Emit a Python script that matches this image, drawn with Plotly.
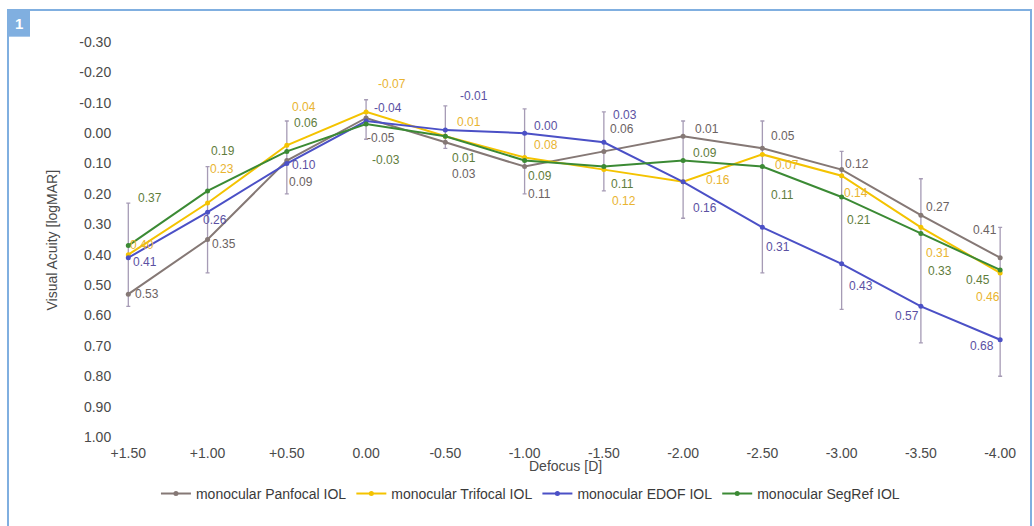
import plotly.graph_objects as go

# Defocus steps (dioptres) shown as categories
defocus = ["+1.50", "+1.00", "+0.50", "0.00", "-0.50", "-1.00",
           "-1.50", "-2.00", "-2.50", "-3.00", "-3.50", "-4.00"]

# Mean visual acuity (logMAR) per lens group
panfocal = [0.53, 0.35, 0.09, -0.05, 0.03, 0.11, 0.06, 0.01, 0.05, 0.12, 0.27, 0.41]
trifocal = [0.40, 0.23, 0.04, -0.07, 0.01, 0.08, 0.12, 0.16, 0.07, 0.14, 0.31, 0.46]
edof = [0.41, 0.26, 0.10, -0.04, -0.01, 0.00, 0.03, 0.16, 0.31, 0.43, 0.57, 0.68]
segref = [0.37, 0.19, 0.06, -0.03, 0.01, 0.09, 0.11, 0.09, 0.11, 0.21, 0.33, 0.45]

# Spread (lower / upper logMAR) drawn as whiskers at each defocus step
spread_low = [0.23, 0.11, -0.04, -0.11, -0.09, -0.08, -0.07, -0.04, -0.04, 0.06, 0.15, 0.31]
spread_high = [0.57, 0.46, 0.20, 0.02, 0.05, 0.20, 0.19, 0.28, 0.46, 0.58, 0.69, 0.80]

y_ticks = [-0.30, -0.20, -0.10, 0.00, 0.10, 0.20, 0.30, 0.40, 0.50,
           0.60, 0.70, 0.80, 0.90, 1.00]

# Label pixel offsets (right, down) for each point of each series
pan_off = [(19, 0), (16, 4), (14, 21), (15, 20), (19, 32), (15, 27),
           (18, -22), (24, -7), (21, -12), (15, -6), (17, -8), (-15, -28)]
tri_off = [(14, -10), (14, -34), (17, -38), (26, -28), (24, -14), (21, -12),
           (20, 31), (35, -2), (25, 11), (14, 17), (17, 26), (-12, 24)]
edof_off = [(17, 4), (7, 8), (17, 1), (22, -13), (29, -34), (21, -7),
            (21, -27), (22, 26), (16, 20), (19, 22), (-14, 10), (-18, 6)]
seg_off = [(22, -48), (15, -40), (19, -28), (20, 36), (19, 22), (15, 15),
           (19, 17), (22, -8), (20, 28), (17, 23), (19, 38), (-22, 10)]

series = [
    ("monocular Panfocal IOL", panfocal, "#857875", "#6b6262", pan_off),
    ("monocular Trifocal IOL", trifocal, "#f4c300", "#e9b430", tri_off),
    ("monocular EDOF IOL", edof, "#4b50c6", "#5b50a2", edof_off),
    ("monocular SegRef IOL", segref, "#3b8a34", "#5f7d3c", seg_off),
]

FONT = "Liberation Sans, Arial, sans-serif"

fig = go.Figure()

# Whiskers behind the curves
mid = [(lo + hi) / 2 for lo, hi in zip(spread_low, spread_high)]
half = [(hi - lo) / 2 for lo, hi in zip(spread_low, spread_high)]
fig.add_trace(go.Scatter(
    x=defocus, y=mid, mode="markers",
    marker=dict(size=1, opacity=0),
    error_y=dict(type="data", array=half, visible=True,
                 color="rgba(128,112,150,0.7)", thickness=1.3, width=2),
    showlegend=False, hoverinfo="skip",
))

for name, vals, color, lab_color, offs in series:
    fig.add_trace(go.Scatter(
        x=defocus, y=vals, mode="lines+markers", name=name,
        line=dict(color=color, width=2),
        marker=dict(color=color, size=5),
    ))
    # value labels; category position given by index
    for i, (v, (dx, dy)) in enumerate(zip(vals, offs)):
        fig.add_annotation(
            x=i, y=v, text=f"{v:.2f}", showarrow=False,
            xanchor="center", yanchor="middle",
            xshift=dx, yshift=-dy,
            font=dict(family=FONT, size=12, color=lab_color),
        )

# Axis titles
fig.add_annotation(
    xref="paper", yref="paper", x=-0.0735, y=0.5,
    xanchor="center", yanchor="middle",
    text="Visual Acuity [logMAR]", textangle=-90, showarrow=False,
    font=dict(family=FONT, size=14, color="#4a4a4a"),
)
fig.add_annotation(
    xref="paper", yref="paper", x=0.498, y=-0.073,
    xanchor="center", yanchor="middle",
    text="Defocus [D]", showarrow=False,
    font=dict(family=FONT, size=14, color="#4a4a4a"),
)

# Outer frame and numbered badge
frame = "#80afe0"
fig.add_shape(type="rect", xref="paper", yref="paper",
              x0=-0.1225, x1=1.0167, y0=-0.3, y1=1.081,
              line=dict(color=frame, width=2), fillcolor="rgba(0,0,0,0)", layer="below")
fig.add_shape(type="rect", xref="paper", yref="paper",
              x0=-0.1225, x1=-0.098, y0=1.0135, y1=1.081,
              line=dict(color=frame, width=0), fillcolor=frame)
fig.add_annotation(
    xref="paper", yref="paper", x=-0.1102, y=1.047,
    xanchor="center", yanchor="middle",
    text="<b>1</b>", showarrow=False,
    font=dict(family=FONT, size=15, color="white"),
)

fig.update_layout(
    width=1034, height=526,
    margin=dict(l=118, r=18, t=42, b=89),
    paper_bgcolor="white", plot_bgcolor="white",
    font=dict(family=FONT, size=14, color="#4a4a4a"),
    xaxis=dict(
        type="category", range=[-0.13, 11.2],
        showgrid=False, zeroline=False, showline=False,
        ticks="outside", ticklen=3, tickcolor="rgba(0,0,0,0)",
        tickfont=dict(family=FONT, size=14, color="#4a4a4a"),
    ),
    yaxis=dict(
        range=[1.0, -0.3], autorange=False,
        tickvals=y_ticks, ticktext=[f"{t:.2f}" for t in y_ticks],
        showgrid=False, zeroline=False, showline=False,
        ticks="outside", ticklen=3, tickcolor="rgba(0,0,0,0)",
        tickfont=dict(family=FONT, size=14, color="#4a4a4a"),
    ),
    legend=dict(
        orientation="h", xref="container", yref="container",
        x=0.513, xanchor="center", y=0.061, yanchor="middle",
        font=dict(family=FONT, size=14, color="#3a3a3a"),
        itemwidth=30, bgcolor="rgba(0,0,0,0)",
    ),
)

fig.write_html("out.html")
